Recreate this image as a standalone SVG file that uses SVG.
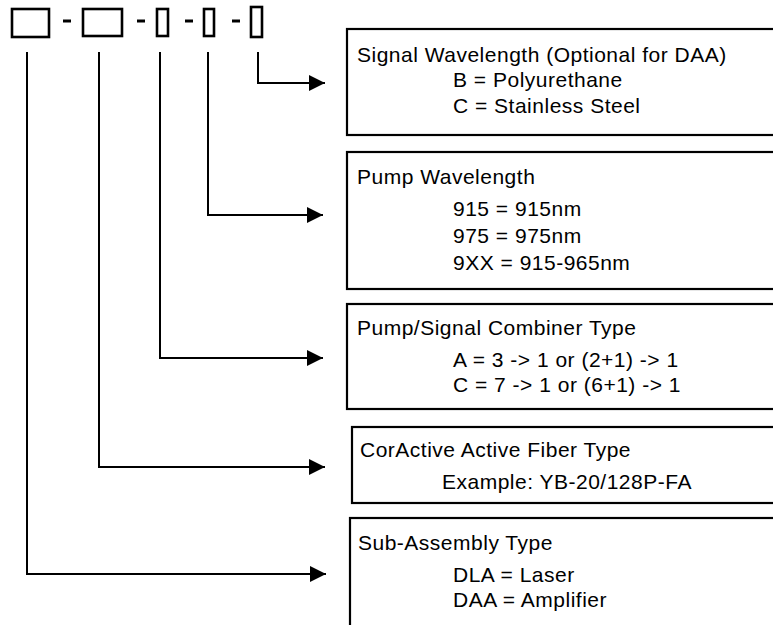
<svg xmlns="http://www.w3.org/2000/svg" width="773" height="625" viewBox="0 0 773 625">
<style>
.box{fill:#fff;stroke:#000;stroke-width:2.2}
.sq{fill:#fff;stroke:#000;stroke-width:2.6}
.dash{stroke:#000;stroke-width:3}
.con{fill:none;stroke:#000;stroke-width:2}
text{font-family:"Liberation Sans",Arial,sans-serif;font-size:21px;letter-spacing:0.5px;fill:#000}
</style>
<defs>
<marker id="arr" markerWidth="8" markerHeight="8" refX="8" refY="4" orient="auto" markerUnits="strokeWidth">
<path d="M0,0 L8,4 L0,8 Z" fill="#000"/>
</marker>
</defs>
<g id="code">
<rect class="sq" x="12" y="9" width="37" height="28"/>
<line class="dash" x1="63" y1="21" x2="71" y2="21"/>
<rect class="sq" x="83" y="9" width="39" height="27"/>
<line class="dash" x1="137" y1="21" x2="145" y2="21"/>
<rect class="sq" x="157" y="9" width="11" height="27"/>
<line class="dash" x1="185" y1="21" x2="193" y2="21"/>
<rect class="sq" x="204" y="9" width="10" height="27"/>
<line class="dash" x1="232" y1="21" x2="240" y2="21"/>
<rect class="sq" x="251" y="7" width="11" height="30"/>
</g>
<g id="connectors">
<polyline class="con" points="258,52 258,83 325,83" marker-end="url(#arr)"/>
<polyline class="con" points="208,52 208,215 323,215" marker-end="url(#arr)"/>
<polyline class="con" points="160,52 160,358 323,358" marker-end="url(#arr)"/>
<polyline class="con" points="99,52 99,467 325,467" marker-end="url(#arr)"/>
<polyline class="con" points="27,52 27,574 326,574" marker-end="url(#arr)"/>
</g>
<g id="signal">
<rect class="box" x="347" y="29" width="460" height="106"/>
<text x="357" y="62">Signal Wavelength (Optional for DAA)</text>
<text x="453" y="87">B = Polyurethane</text>
<text x="453" y="113">C = Stainless Steel</text>
</g>
<g id="pump">
<rect class="box" x="347" y="152" width="460" height="137"/>
<text x="357" y="184">Pump Wavelength</text>
<text x="453" y="216">915 = 915nm</text>
<text x="453" y="243">975 = 975nm</text>
<text x="453" y="270">9XX = 915-965nm</text>
</g>
<g id="combiner">
<rect class="box" x="347" y="304" width="460" height="105"/>
<text x="357" y="335">Pump/Signal Combiner Type</text>
<text x="453" y="367">A = 3 -&gt; 1 or (2+1) -&gt; 1</text>
<text x="453" y="392">C = 7 -&gt; 1 or (6+1) -&gt; 1</text>
</g>
<g id="fiber">
<rect class="box" x="352" y="427" width="460" height="76"/>
<text x="360" y="457">CorActive Active Fiber Type</text>
<text x="442" y="489">Example: YB-20/128P-FA</text>
</g>
<g id="subassembly">
<rect class="box" x="350" y="518" width="460" height="130"/>
<text x="358" y="550">Sub-Assembly Type</text>
<text x="453" y="582">DLA = Laser</text>
<text x="453" y="607">DAA = Amplifier</text>
</g>
</svg>
